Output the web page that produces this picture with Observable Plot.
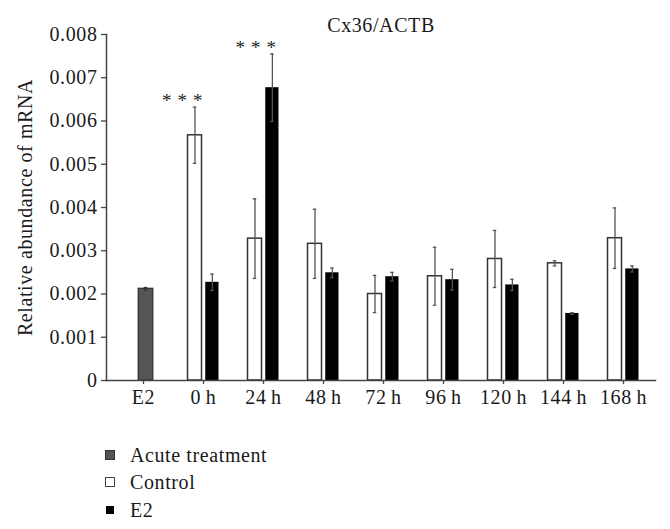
<!DOCTYPE html>
<html>
<head>
<meta charset="utf-8">
<script src="https://cdn.jsdelivr.net/npm/d3@7"></script>
<script src="https://cdn.jsdelivr.net/npm/@observablehq/plot@0.6"></script>
<style>
  html, body { margin: 0; padding: 0; background: #fff; }
  #wrap { position: relative; width: 670px; height: 529px; font-family: "Liberation Serif", serif; color: #1a1a1a; }
  .row { position: absolute; left: 105px; height: 28px; display: flex; align-items: center; font-size: 20px; letter-spacing: 0.6px; }
  .sq { display: inline-block; box-sizing: border-box; }
</style>
</head>
<body>
<div id="wrap">
  <div id="chart"></div>
  <div class="row" style="top:441px"><span class="sq" style="width:10px;height:10px;background:#555;border:1px solid #333"></span><span style="margin-left:15px">Acute treatment</span></div>
  <div class="row" style="top:468px"><span class="sq" style="width:10px;height:10px;background:#fff;border:1.5px solid #444"></span><span style="margin-left:15px">Control</span></div>
  <div class="row" style="top:496px"><span class="sq" style="width:8px;height:8px;background:#000;margin-left:1px"></span><span style="margin-left:16px">E2</span></div>
</div>
<script>
// ---- data ----
const categories = ["E2", "0\u2009h", "24\u2009h", "48\u2009h", "72\u2009h", "96\u2009h", "120\u2009h", "144\u2009h", "168\u2009h"];
const timepoints = categories.slice(1);
const acuteValue = [0.00212];
const acuteErr = [0.00003];
const controlMean = [0.00567, 0.00328, 0.00316, 0.00200, 0.00241, 0.00281, 0.00271, 0.00329];
const controlErr  = [0.00065, 0.00092, 0.00080, 0.00043, 0.00067, 0.00066, 0.00006, 0.00070];
const e2Mean = [0.00227, 0.00677, 0.00249, 0.00240, 0.00233, 0.00221, 0.00155, 0.00258];
const e2Err  = [0.00019, 0.00078, 0.00011, 0.00010, 0.00024, 0.00013, 0.00002, 0.00007];
const yTicks = [0, 0.001, 0.002, 0.003, 0.004, 0.005, 0.006, 0.007, 0.008];
const yTickLabels = ["0", "0.001", "0.002", "0.003", "0.004", "0.005", "0.006", "0.007", "0.008"];
const sigMarks = [{cat: "0\u2009h", series: "Control", label: "* * *"}, {cat: "24\u2009h", series: "E2", label: "* * *"}];
const title = "Cx36/ACTB";
const yLabel = "Relative abundance of mRNA";

// ---- tables ----
const acute = [{cat: categories[0], v: acuteValue[0], e: acuteErr[0]}];
const control = timepoints.map((c, i) => ({cat: c, v: controlMean[i], e: controlErr[i]}));
const e2 = timepoints.map((c, i) => ({cat: c, v: e2Mean[i], e: e2Err[i]}));
const lookup = {Control: control, E2: e2};
const sig = sigMarks.map(s => {
  const d = lookup[s.series].find(r => r.cat === s.cat);
  return {...s, y: d.v + d.e};
});

// ---- geometry (styles) ----
const xRange = [110.75, 655.25];
const bw = (xRange[1] - xRange[0]) / categories.length;
const half = bw / 2;
const ins = (l, r) => ({insetLeft: half + l, insetRight: half - r});
const ctrlG = {l: -15.75, r: -1.25}, e2G = {l: 2, r: 15.75}, acG = {l: -5, r: 10};
const mid = g => (g.l + g.r) / 2;

function errMarks(data, g, color) {
  const c = mid(g);
  return [
    Plot.ruleX(data, {x: "cat", y1: d => d.v - d.e, y2: d => d.v + d.e, dx: c, stroke: color, strokeWidth: 1.3}),
    Plot.tickY(data, {x: "cat", y: d => d.v + d.e, ...ins(c - 2, c + 2), stroke: color, strokeWidth: 1.3}),
    Plot.tickY(data, {x: "cat", y: d => d.v - d.e, ...ins(c - 2, c + 2), stroke: color, strokeWidth: 1.3})
  ];
}

const chart = Plot.plot({
  width: 670,
  height: 430,
  marginLeft: 106,
  marginRight: 15,
  marginTop: 34,
  marginBottom: 50,
  style: {fontFamily: "'Liberation Serif', serif", fontSize: "20px", color: "#1a1a1a", background: "#fff", letterSpacing: "0.6px"},
  x: {type: "band", domain: categories, range: xRange, padding: 0},
  y: {domain: [0, 0.008]},
  marks: [
    Plot.axisY({ticks: yTicks, tickFormat: d => yTickLabels[yTicks.indexOf(d)], tickSize: 5, tickPadding: 4, label: null, stroke: "#444", strokeWidth: 1.3}),
    Plot.axisX({tickSize: 4, tickPadding: 5, label: null, stroke: "#444", strokeWidth: 1.3}),
    Plot.barY(acute, {x: "cat", y: "v", fill: "#555", stroke: "#333", strokeWidth: 1.3, ...ins(acG.l, acG.r)}),
    Plot.barY(control, {x: "cat", y: "v", fill: "#fff", stroke: "#333", strokeWidth: 1.5, ...ins(ctrlG.l, ctrlG.r)}),
    Plot.barY(e2, {x: "cat", y: "v", fill: "#000", ...ins(e2G.l, e2G.r)}),
    ...errMarks(acute, acG, "#333"),
    ...errMarks(control, ctrlG, "#555"),
    ...errMarks(e2, e2G, "#555"),
    Plot.text(sig.filter(s => s.series === "Control"), {x: "cat", y: "y", text: "label", dx: -21, dy: -6, fontSize: 19, fill: "#222", letterSpacing: "0px"}),
    Plot.text(sig.filter(s => s.series === "E2"), {x: "cat", y: "y", text: "label", dx: -7.5, dy: -6, fontSize: 19, fill: "#222", letterSpacing: "0px"}),
    Plot.frame({anchor: "left", stroke: "#444", strokeWidth: 1.5}),
    Plot.frame({anchor: "bottom", stroke: "#444", strokeWidth: 1.5}),
    Plot.text([title], {frameAnchor: "top", lineAnchor: "bottom", dy: -3}),
    Plot.text([yLabel], {frameAnchor: "left", textAnchor: "middle", lineAnchor: "middle", rotate: -90, dx: -81})
  ]
});
document.getElementById("chart").appendChild(chart);
</script>
</body>
</html>
